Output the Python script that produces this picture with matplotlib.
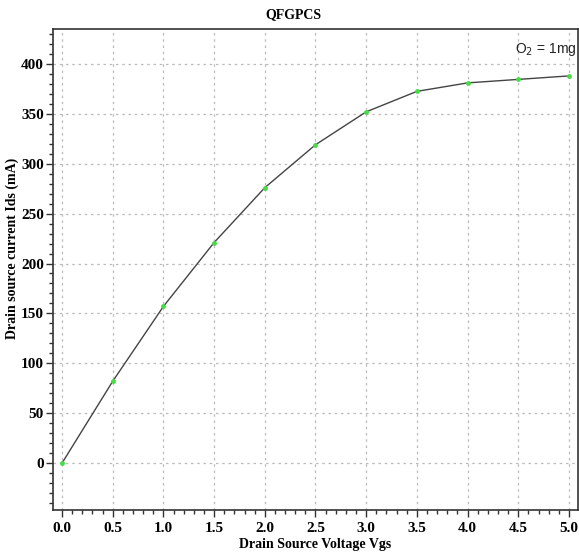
import matplotlib
matplotlib.use("Agg")
import matplotlib.pyplot as plt
from matplotlib.ticker import MultipleLocator

vgs = [0.0, 0.5, 1.0, 1.5, 2.0, 2.5, 3.0, 3.5, 4.0, 4.5, 5.0]
ids = [0, 82, 157, 221, 276, 319, 352, 372.5, 381, 384.5, 388]
xticks = [0.0, 0.5, 1.0, 1.5, 2.0, 2.5, 3.0, 3.5, 4.0, 4.5, 5.0]
yticks = [0, 50, 100, 150, 200, 250, 300, 350, 400]

fig = plt.figure(figsize=(5.79, 5.53), dpi=100)
ax = fig.add_axes([53/579, 1-510/553, (578-53)/579, (510-29)/553])
ax.plot(vgs, ids, color="#444444", lw=1.0, zorder=3)
ax.plot(vgs, ids, 'o', color="#44dd44", ms=3.5, zorder=4, mec="none")

ax.set_xlim(-0.089, 5.089)
ax.set_ylim(-47, 435)
ax.set_xticks(xticks)
ax.set_xticklabels([f"{v:.1f}" for v in xticks])
ax.set_yticks(yticks)
ax.xaxis.set_minor_locator(MultipleLocator(0.1))
ax.yaxis.set_minor_locator(MultipleLocator(10))
ax.grid(True, which="major", color="#bbbbbb", ls=(0, (2, 3)), lw=0.9)
for s in ax.spines.values():
    s.set_color("#333333")
    s.set_linewidth(1.2)
ax.tick_params(which="major", direction="out", length=5, width=1, color="#333333")
ax.tick_params(which="minor", direction="out", length=3, width=1, color="#333333")
ax.tick_params(axis="y", which="major", pad=1.5)
for lab in ax.get_xticklabels() + ax.get_yticklabels():
    lab.set_fontfamily("Liberation Serif")
    lab.set_fontweight("bold")
    lab.set_fontsize(11)

ax.set_xlabel("Drain Source Voltage Vgs", fontfamily="Liberation Serif", fontweight="bold", fontsize=10, labelpad=2)
fig.text(12/579, 1-248/553, "Drain source current Ids (mA)", rotation=90, ha="center", va="center",
         fontfamily="Liberation Serif", fontweight="bold", fontsize=10)
fig.text(293/579, 1-15/553, "QFGPCS", ha="center", va="center", fontfamily="Liberation Serif", fontweight="bold", fontsize=10)
ax.text(4.47, 414, "O$_2$ = 1mg", fontfamily="Liberation Sans", fontsize=10, ha="left", va="center", color="#222222")
fig.savefig("out.png", dpi=100)
